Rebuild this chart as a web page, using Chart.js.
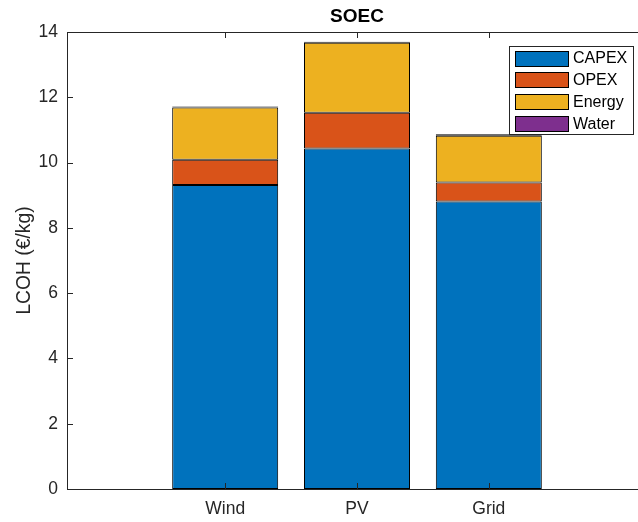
<!DOCTYPE html>
<html>
<head>
<meta charset="utf-8">
<title>SOEC</title>
<script src="https://cdn.jsdelivr.net/npm/chart.js@4.4.1/dist/chart.umd.min.js"></script>
<style>
  html, body { margin: 0; padding: 0; background: #fff; overflow: hidden; }
  canvas { display: block; }
</style>
</head>
<body>
<canvas id="chart" width="660" height="522"></canvas>
<script>
// LCOH breakdown per electricity source (€/kg)
const categories = ["Wind", "PV", "Grid"];
const positions  = [1, 2, 3];
const capex  = [9.31, 10.43, 8.81];
const opex   = [0.78, 1.10, 0.58];
const energy = [1.60, 2.14, 1.43];
const water  = [0.03, 0.03, 0.05];
const yTicks = [0, 2, 4, 6, 8, 10, 12, 14];

const series = [
  { label: "CAPEX",  data: capex,  color: "#0072BD" },
  { label: "OPEX",   data: opex,   color: "#D95319" },
  { label: "Energy", data: energy, color: "#EDB120" },
  { label: "Water",  data: water,  color: "#7E2F8E" }
];

const FONT = "'Liberation Sans', Arial, Helvetica, sans-serif";
const AXIS = "#262626";

// box around the axes, inward tick marks, title and legend
const matlabAxes = {
  id: "matlabAxes",
  afterDraw(chart){
    const { ctx, chartArea: a, scales } = chart;
    const tl = 6;
    ctx.save();
    ctx.strokeStyle = AXIS;
    ctx.lineWidth = 1;
    ctx.strokeRect(Math.round(a.left) + 0.5, Math.round(a.top) + 0.5,
                   Math.round(a.right - a.left), Math.round(a.bottom - a.top));

    ctx.beginPath();
    for (const v of yTicks) {
      const y = Math.round(scales.y.getPixelForValue(v)) + 0.5;
      ctx.moveTo(a.left, y); ctx.lineTo(a.left + tl, y);
      ctx.moveTo(a.right, y); ctx.lineTo(a.right - tl, y);
    }
    for (const v of positions) {
      const x = Math.round(scales.x.getPixelForValue(v)) + 0.5;
      ctx.moveTo(x, a.bottom); ctx.lineTo(x, a.bottom - tl);
      ctx.moveTo(x, a.top); ctx.lineTo(x, a.top + tl);
    }
    ctx.stroke();

    // title
    ctx.fillStyle = "#000";
    ctx.font = "bold 19px " + FONT;
    ctx.textAlign = "center";
    ctx.textBaseline = "middle";
    ctx.fillText("SOEC", (a.left + a.right) / 2, 17);

    // legend
    const lx = 509, ly = 46, lw = 124, lh = 88;
    ctx.fillStyle = "#fff";
    ctx.fillRect(lx, ly, lw, lh);
    ctx.strokeStyle = "#262626";
    ctx.strokeRect(lx + 0.5, ly + 0.5, lw, lh);
    ctx.font = "16px " + FONT;
    ctx.textAlign = "left";
    chart.data.datasets.forEach((ds, i) => {
      const cy = 58 + i * 21.7;
      ctx.fillStyle = ds.backgroundColor;
      ctx.fillRect(515, Math.round(cy - 7.5), 53, 15);
      ctx.strokeStyle = "#000";
      ctx.strokeRect(515.5, Math.round(cy - 7.5) + 0.5, 53, 15);
      ctx.fillStyle = "#000";
      ctx.fillText(ds.label, 573, cy + 1);
    });
    ctx.restore();
  }
};

new Chart(document.getElementById("chart"), {
  type: "bar",
  data: {
    datasets: series.map(s => ({
      label: s.label,
      data: s.data.map((v, i) => ({ x: positions[i], y: v })),
      backgroundColor: s.color,
      borderColor: "#000",
      borderWidth: 1,
      borderSkipped: false,
      inflateAmount: 0,
      barThickness: 106
    }))
  },
  options: {
    responsive: false,
    animation: false,
    devicePixelRatio: 1,
    layout: { padding: { top: 32, right: 13, left: 0, bottom: 0 } },
    plugins: { legend: { display: false }, title: { display: false }, tooltip: { enabled: false } },
    scales: {
      x: {
        type: "linear",
        stacked: true,
        offset: false,
        min: -0.2,
        max: 4.2,
        grid: { display: false, drawTicks: false },
        border: { display: false },
        afterBuildTicks(scale){ scale.ticks = positions.map(v => ({ value: v })); },
        afterFit(scale){ scale.height = 33; },
        ticks: {
          padding: 10,
          color: AXIS,
          font: { family: FONT, size: 17.5 },
          callback: v => categories[positions.indexOf(v)] || ""
        }
      },
      y: {
        stacked: true,
        min: 0,
        max: 14,
        grid: { display: false, drawTicks: false },
        border: { display: false },
        afterBuildTicks(scale){ scale.ticks = yTicks.map(v => ({ value: v })); },
        afterFit(scale){ scale.width = 67; },
        ticks: {
          padding: 9,
          color: AXIS,
          font: { family: FONT, size: 17.5 }
        },
        title: {
          display: true,
          text: "LCOH (€/kg)",
          color: AXIS,
          padding: { top: 13, bottom: 0 },
          font: { family: FONT, size: 19.3 }
        }
      }
    }
  },
  plugins: [matlabAxes]
});
</script>
</body>
</html>
